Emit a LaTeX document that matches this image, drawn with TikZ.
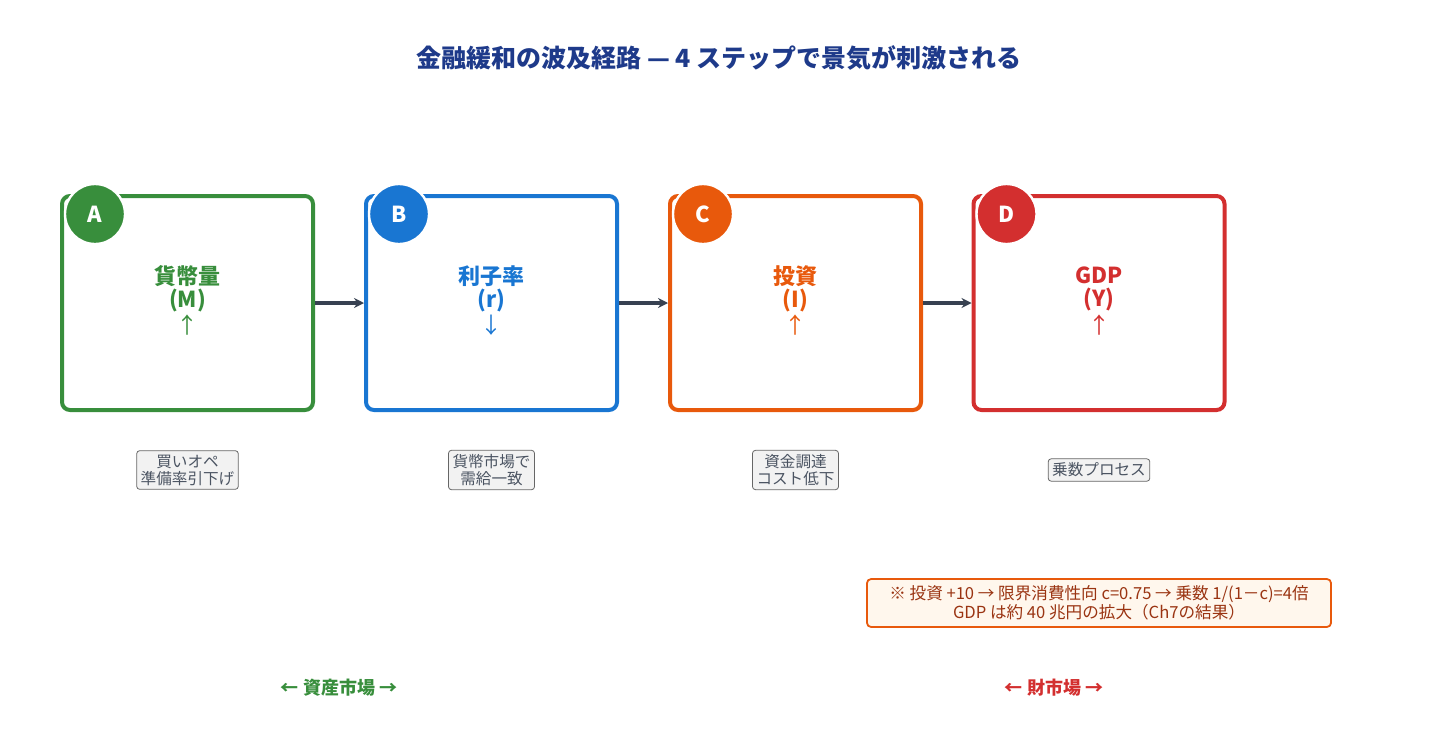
\documentclass[tikz,border=0pt]{standalone}
\usepackage{fontspec}
\setmainfont{Noto Sans CJK JP}
\usetikzlibrary{arrows.meta}
\definecolor{cA}{HTML}{388E3C}
\definecolor{cB}{HTML}{1976D2}
\definecolor{cC}{HTML}{E8590C}
\definecolor{cD}{HTML}{D32F2F}
\definecolor{navy}{HTML}{1E3A8A}
\definecolor{dark}{HTML}{374151}
\definecolor{notefill}{HTML}{FFF7ED}
\definecolor{notetext}{HTML}{9A3412}
\tikzset{
 stepbox/.style={draw=#1,line width=2pt,rounded corners=4pt,minimum width=125.5pt,minimum height=107pt},
 badge/.style={circle,fill=#1,draw=white,line width=1.2pt,minimum size=30pt,inner sep=0pt,text=white,font=\bfseries\fontsize{11}{12}\selectfont},
 lbl/.style={text=#1,align=center,font=\fontsize{11}{11.5}\selectfont},
 sub/.style={draw=gray!80!black,fill=gray!10,rounded corners=1.5pt,align=center,inner sep=2pt,text=dark!90,font=\fontsize{7.8}{8.5}\selectfont},
 flow/.style={-{Stealth[length=5pt,width=5pt]},line width=1.6pt,draw=dark}
}
\begin{document}
\begin{tikzpicture}[x=0.5pt,y=-0.5pt]
\useasboundingbox (0,0) rectangle (1438,739);
\node[text=navy,font=\bfseries\fontsize{12.5}{13}\selectfont] (title) at (719,58) {金融緩和の波及経路 — 4 ステップで景気が刺激される};
\foreach \n/\x/\c/\t/\s/\a/\bl/\sb in {A/187.5/cA/貨幣量/(M)/↑/A/買いオペ\\準備率引下げ, B/491.5/cB/利子率/(r)/↓/B/貨幣市場で\\需給一致, C/795.5/cC/投資/(I)/↑/C/資金調達\\コスト低下, D/1099/cD/GDP/(Y)/↑/D/乗数プロセス}{
 \node[stepbox=\c] (\n) at (\x,303) {};
 \node[badge=\c] (\n b) at (\x-92.5,214) {\bl};
 \node[lbl=\c,font=\bfseries\fontsize{11}{11.5}\selectfont] (\n t) at (\x,289) {\t\\\s};
 \node[text=\c,font=\fontsize{11}{11}\selectfont] (\n a) at (\x,325) {\a};
 \node[sub] (\n s) at (\x,470) {\sb};
}
\draw[flow] (A.east) -- (B.west);
\draw[flow] (B.east) -- (C.west);
\draw[flow] (C.east) -- (D.west);
\node[draw=cC,fill=notefill,line width=0.9pt,rounded corners=2pt,minimum width=232pt,minimum height=23pt,align=center,text=notetext,font=\fontsize{8.3}{9.5}\selectfont] (note) at (1099,603) {※ 投資 +10 → 限界消費性向 c=0.75 → 乗数 1/(1－c)=4倍\\GDP は約 40 兆円の拡大（Ch7の結果）};
\node[text=cA,font=\bfseries\fontsize{9}{10}\selectfont] (m1) at (339,688) {← 資産市場 →};
\node[text=cD,font=\bfseries\fontsize{9}{10}\selectfont] (m2) at (1054,688) {← 財市場 →};
\end{tikzpicture}
\end{document}
